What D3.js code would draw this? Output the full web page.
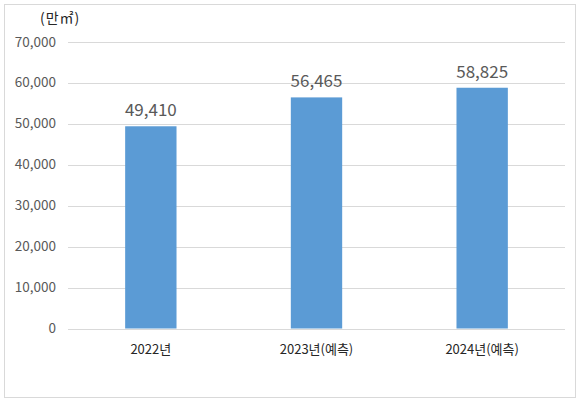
<!DOCTYPE html>
<html>
<head>
<meta charset="utf-8">
<script src="https://cdn.jsdelivr.net/npm/d3@7"></script>
<style>
  body { margin: 0; background: #fff; }
  svg text { font-family: "Noto Sans CJK KR", "Noto Sans", sans-serif; }
</style>
</head>
<body>
<svg id="chart"></svg>
<script>
const width = 580;
const height = 402;
const margin = {left: 68, right: 15, top: 42, bottom: 73};

// data
const categories = ['2022년', '2023년(예측)', '2024년(예측)'];
const values = [49410, 56465, 58825];
const yTicks = [0, 10000, 20000, 30000, 40000, 50000, 60000, 70000];
const unitLabel = '(만㎡)';

const svg = d3.select('#chart')
    .attr('width', width)
    .attr('height', height);

// outer frame
svg.append('rect')
    .attr('x', 4.5).attr('y', 4.5)
    .attr('width', 571).attr('height', 393)
    .attr('fill', '#fff')
    .attr('stroke', '#d9d9d9');

const x = d3.scaleBand()
    .domain(categories)
    .range([margin.left, width - margin.right]);

const y = d3.scaleLinear()
    .domain([0, 70000])
    .range([height - margin.bottom - 0.5, margin.top]);

// gridlines
svg.append('g')
    .selectAll('line')
    .data(yTicks)
    .enter().append('line')
        .attr('x1', margin.left)
        .attr('x2', width - margin.right)
        .attr('y1', d => Math.round(y(d)) + 0.5)
        .attr('y2', d => Math.round(y(d)) + 0.5)
        .attr('stroke', '#d9d9d9')
        .attr('stroke-width', 1);

// y tick labels
const fmt = d3.format(',');
svg.append('g')
    .selectAll('text')
    .data(yTicks)
    .enter().append('text')
        .attr('x', 56)
        .attr('y', d => y(d) + 4.5)
        .attr('text-anchor', 'end')
        .attr('fill', '#595959')
        .style('font-size', '13.5px')
        .text(d => fmt(d));

// bars
const barW = x.bandwidth() * 0.31;
svg.append('g')
    .selectAll('rect')
    .data(values)
    .enter().append('rect')
        .attr('x', (d, i) => x(categories[i]) + (x.bandwidth() - barW) / 2)
        .attr('y', d => y(d))
        .attr('width', barW)
        .attr('height', d => y(0) - y(d))
        .attr('fill', '#5b9bd5');

// value labels
svg.append('g')
    .selectAll('text')
    .data(values)
    .enter().append('text')
        .attr('x', (d, i) => x(categories[i]) + x.bandwidth() / 2)
        .attr('y', d => y(d) - 10)
        .attr('text-anchor', 'middle')
        .attr('fill', '#595959')
        .style('font-size', '17px')
        .text(d => fmt(d));

// category labels
svg.append('g')
    .selectAll('text')
    .data(categories)
    .enter().append('text')
        .attr('x', d => x(d) + x.bandwidth() / 2)
        .attr('y', 354)
        .attr('text-anchor', 'middle')
        .attr('fill', '#262626')
        .style('font-size', '13px')
        .text(d => d);

// unit label
svg.append('text')
    .attr('x', 40)
    .attr('y', 23)
    .attr('fill', '#262626')
    .style('font-size', '14px')
    .style('letter-spacing', '1px')
    .text(unitLabel);
</script>
</body>
</html>
